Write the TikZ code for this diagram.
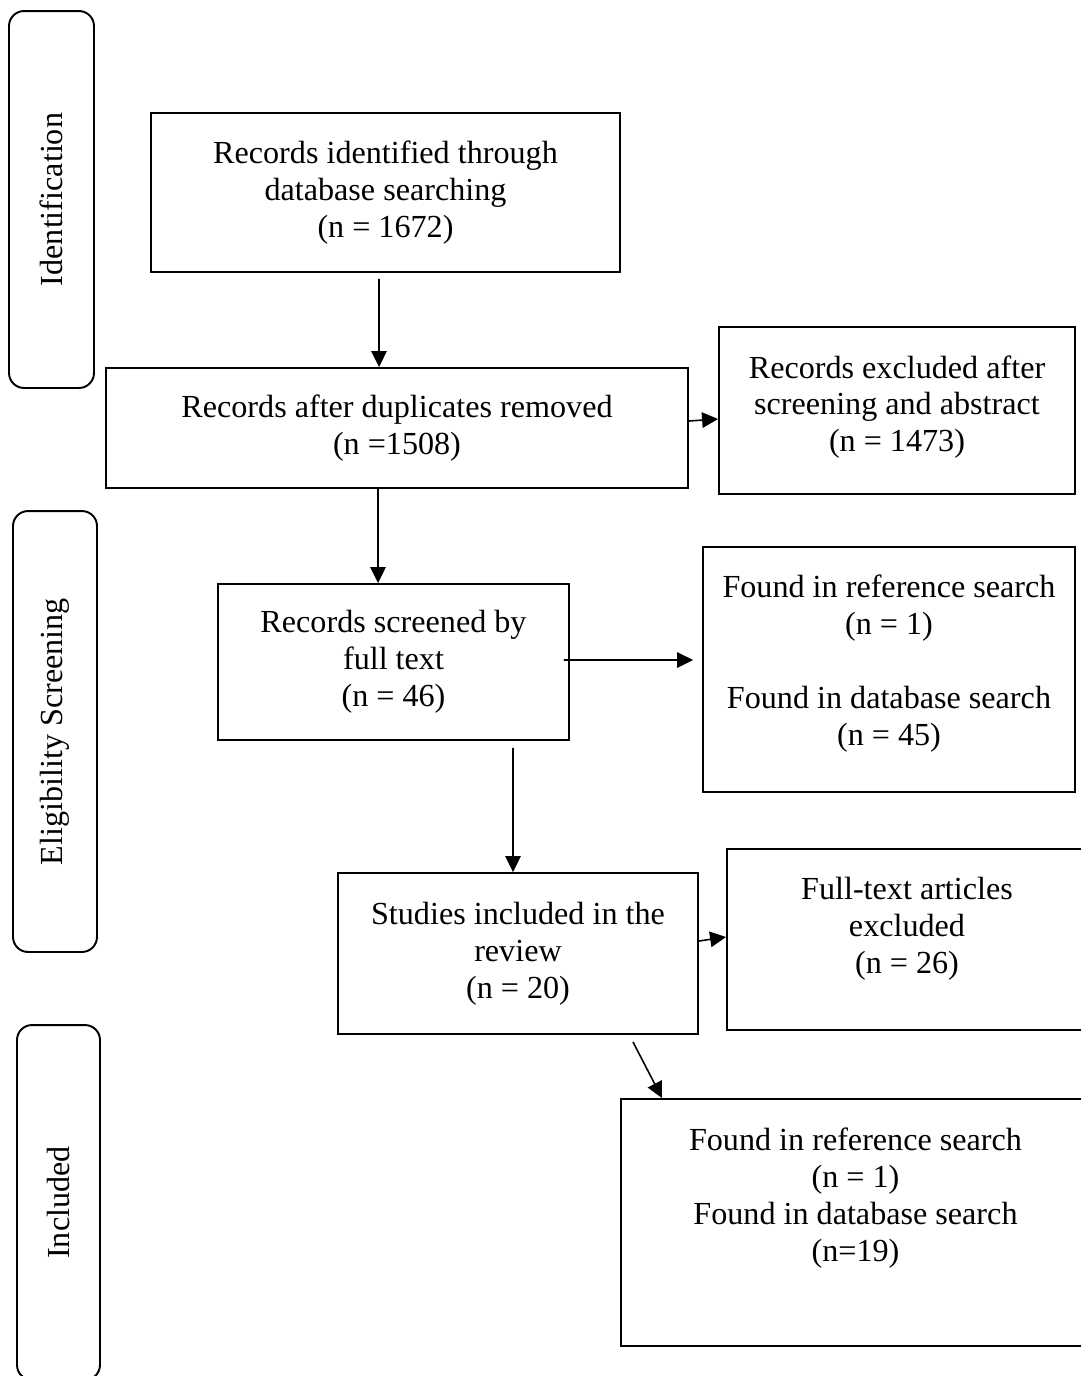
\documentclass[tikz,border=0pt]{standalone}
\usepackage{fontspec}
\setmainfont{Liberation Serif}
\usepackage{tikz}
\usetikzlibrary{positioning, calc}
\usetikzlibrary{arrows.meta}

\begin{document}
\begin{tikzpicture}[x=0.02cm, y=-0.02cm, font=\fontsize{18.3}{21}\selectfont, align=center, >={Triangle[length=0.32cm, width=0.31cm]}, line width=0.9pt,
        box/.style={draw, rectangle, line width=1.1pt, inner sep=2pt},
        phase/.style={draw, rectangle, rounded corners=0.3cm, line width=1.1pt, rotate=90, inner sep=2pt}]
        % Frame
        \useasboundingbox (0,0) rectangle (1081,1376);
        \clip (0,0) rectangle (1081,1376);

        % Phases
        \node[phase, minimum width=7.54cm, minimum height=1.70cm] (identification) at (51.5,199.5) {Identification};
        \node[phase, minimum width=8.82cm, minimum height=1.68cm] (eligibility) at (55,731.5) {Eligibility Screening};
        \node[phase, minimum width=7.10cm, minimum height=1.66cm] (inclusion) at (58.5,1202.5) {Included};

        % Nodes
        \node[box, minimum width=9.38cm, minimum height=3.18cm] (identified) at (385.5,192.5) {Records identified through\\database searching\\(n = 1672)};
        \node[box, minimum width=11.64cm, minimum height=2.40cm] (duplicates) at (397,428) {Records after duplicates removed\\(n =1508)};
        \node[box, minimum width=7.12cm, minimum height=3.34cm, label={[yshift=0.07cm]center:{Records excluded after\\screening and abstract\\(n = 1473)}}] (excluded) at (897,410.5) {};
        \node[box, minimum width=7.02cm, minimum height=3.12cm] (screened) at (393.5,662) {Records screened by\\full text\\(n = 46)};
        \node[box, minimum width=7.44cm, minimum height=4.90cm, label={[yshift=0.12cm]center:{Found in reference search\\(n = 1)\\[21pt]Found in database search\\(n = 45)}}] (sources) at (889,669.5) {};
        \node[box, minimum width=7.20cm, minimum height=3.22cm] (included) at (518,953.5) {Studies included in the\\review\\(n = 20)};
        \node[box, minimum width=7.20cm, minimum height=3.62cm, label={[yshift=0.21cm]center:{Full-text articles\\excluded\\(n = 26)}}] (fulltext) at (907,939.5) {};
        \node[box, minimum width=9.38cm, minimum height=4.94cm, label={[yshift=0.49cm]center:{Found in reference search\\(n = 1)\\Found in database search\\(n=19)}}] (final) at (855.5,1222.5) {};

        % Edges
        \draw[->] ([xshift=-0.13cm, yshift=-0.12cm]identified.south) -- ([xshift=-0.36cm]duplicates.north);
        \draw[->] ([xshift=-0.38cm]duplicates.south) -- ([xshift=-0.31cm]screened.north);
        \draw[->] ([yshift=0.14cm]duplicates.east) -- ([yshift=-0.17cm]excluded.west);
        \draw[->] ([xshift=-0.12cm, yshift=0.04cm]screened.east) -- ([xshift=-0.18cm, yshift=0.19cm]sources.west);
        \draw[->] ([xshift=2.39cm, yshift=-0.14cm]screened.south) -- ([xshift=-0.1cm]included.north);
        \draw[->] ([yshift=0.25cm]included.east) -- ([yshift=0.05cm]fulltext.west);
        \draw[->] ([xshift=2.3cm, yshift=-0.14cm]included.south) -- ([xshift=-3.87cm]final.north);
    \end{tikzpicture}
\end{document}
